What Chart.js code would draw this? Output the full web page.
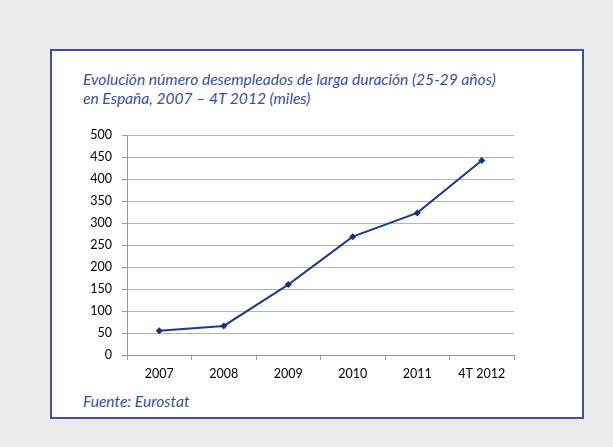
<!DOCTYPE html>
<html>
<head>
<meta charset="utf-8">
<script src="https://cdn.jsdelivr.net/npm/chart.js@4"></script>
<style>
  html,body{margin:0;padding:0;background:#ebebeb;width:613px;height:447px;overflow:hidden;}
  #box{position:absolute;left:50px;top:49px;width:534px;height:370px;box-sizing:border-box;border:2px solid #3f51a3;background:#fff;}
  .t{position:absolute;font-family:Lato,"Open Sans",sans-serif;font-style:italic;color:#3a4f9f;font-size:15.6px;line-height:19px;white-space:nowrap;}
  #title{left:83px;top:70px;}
  #src{left:83px;top:392px;}
  #wrap{position:absolute;left:0;top:0;width:613px;height:447px;}
</style>
</head>
<body>
<div id="box"></div>
<div id="title" class="t">Evolución número desempleados de larga duración (25-29 años)<br>en España, 2007 – 4T 2012 (miles)</div>
<div id="src" class="t">Fuente: Eurostat</div>
<div id="wrap"><canvas id="c" width="613" height="447"></canvas></div>
<script>
const categories = ["2007","2008","2009","2010","2011","4T 2012"];
const values = [55, 66, 160, 269, 323, 442];
const yTicks = [0,50,100,150,200,250,300,350,400,450,500];

const ctx = document.getElementById('c');
new Chart(ctx, {
  type: 'line',
  data: {
    labels: categories,
    datasets: [{
      data: values,
      borderColor: '#1c3b95',
      backgroundColor: '#15308a',
      borderWidth: 2,
      pointStyle: 'rectRot',
      pointRadius: 3.5,
      pointHoverRadius: 3.5,
      pointBorderWidth: 0,
      tension: 0,
      fill: false
    }]
  },
  options: {
    responsive: false,
    animation: false,
    devicePixelRatio: 1,
    layout: { padding: { left: 67, right: 99, top: 135, bottom: 62 } },
    plugins: { legend: { display: false }, tooltip: { enabled: false }, title: { display: false } },
    scales: {
      x: {
        offset: true,
        afterFit: s => { s.height = 30; },
        grid: { offset: true, drawOnChartArea: false, drawTicks: true, tickLength: 5, tickColor: '#999', color: '#999' },
        border: { color: '#999', width: 1 },
        ticks: { color: '#000', font: { family: 'Lato', size: 12.5 }, padding: 6, maxRotation: 0, autoSkip: false }
      },
      y: {
        min: 0, max: 500,
        afterBuildTicks: s => { s.ticks = yTicks.map(v => ({ value: v })); },
        afterFit: s => { s.width = 60; },
        grid: { color: '#b3b3b3', borderDash: [1,1], drawTicks: true, tickLength: 5, tickColor: '#999', tickBorderDash: [] },
        border: { color: '#999', width: 1 },
        ticks: { color: '#000', font: { family: 'Lato', size: 12.5 }, padding: 10 }
      }
    }
  }
});
</script>
</body>
</html>
